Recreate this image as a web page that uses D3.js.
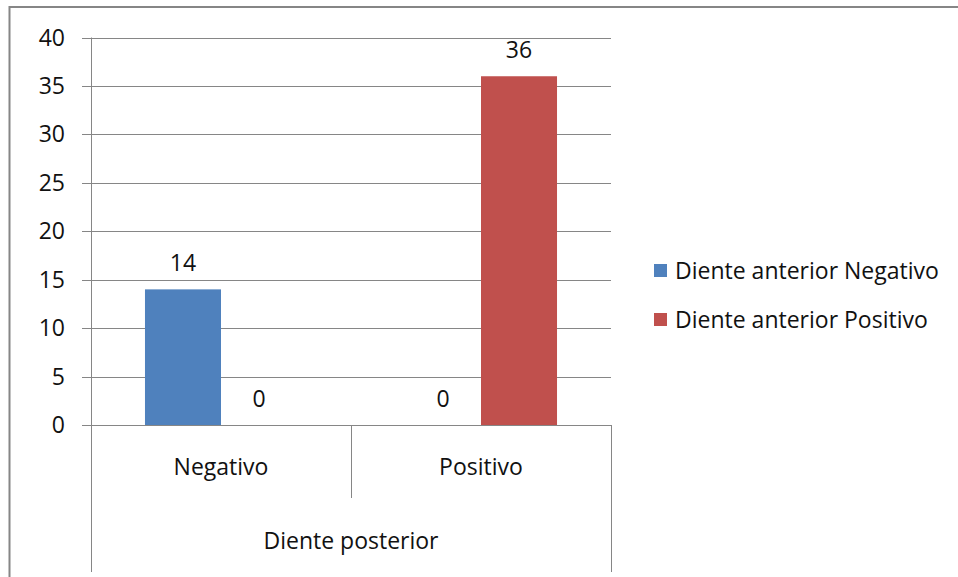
<!DOCTYPE html>
<html>
<head>
<meta charset="utf-8">
<script src="https://cdn.jsdelivr.net/npm/d3@7"></script>
<style>
  html, body { margin: 0; padding: 0; background: #fff; }
  svg { display: block; }
  text { font-family: "Open Sans", "Liberation Sans", sans-serif; fill: #111; }
</style>
</head>
<body>
<svg id="chart" width="958" height="577"></svg>
<script>
// Categories on the x axis (Diente posterior) and the two series (Diente anterior)
const categories = ["Negativo", "Positivo"];
const seriesNames = ["Diente anterior Negativo", "Diente anterior Positivo"];
const seriesNegativo = [14, 0];
const seriesPositivo = [0, 36];
const yTicks = [0, 5, 10, 15, 20, 25, 30, 35, 40];
const axisTitle = "Diente posterior";

const colors = ["#4F81BD", "#C0504D"];
const seriesValues = [seriesNegativo, seriesPositivo];
const fontSize = 23;

const svg = d3.select("#chart");

// outer chart frame
svg.append("rect")
  .attr("x", 9.5).attr("y", 7).attr("width", 960).attr("height", 580)
  .attr("fill", "none").attr("stroke", "#868686").attr("stroke-width", 2);

const plot = { left: 91, right: 611, top: 37.5, bottom: 425 };

const y = d3.scaleLinear().domain([0, 40]).range([plot.bottom, plot.top]);
const x = d3.scaleBand().domain(categories).range([plot.left, plot.right])
  .paddingInner(0).paddingOuter(0);
const xInner = d3.scaleBand().domain(d3.range(seriesNames.length))
  .range([0, x.bandwidth()]).paddingInner(0).paddingOuter(0.71);

// horizontal gridlines with tick marks
svg.append("g").selectAll("line").data(yTicks).join("line")
  .attr("x1", plot.left - 9).attr("x2", plot.right)
  .attr("y1", d => Math.round(y(d)) + 0.5).attr("y2", d => Math.round(y(d)) + 0.5)
  .attr("stroke", "#868686").attr("stroke-width", 1);

// y axis line
svg.append("line")
  .attr("x1", plot.left + 0.5).attr("x2", plot.left + 0.5)
  .attr("y1", plot.top).attr("y2", 572)
  .attr("stroke", "#868686");

// y tick labels
svg.append("g").selectAll("text").data(yTicks).join("text")
  .attr("x", 65).attr("y", d => y(d))
  .attr("dy", "0.35em").attr("text-anchor", "end")
  .attr("font-size", fontSize)
  .text(d => d);

// category dividers below the axis
svg.append("line")
  .attr("x1", x("Positivo") + 0.5).attr("x2", x("Positivo") + 0.5)
  .attr("y1", plot.bottom).attr("y2", 498)
  .attr("stroke", "#868686");
svg.append("line")
  .attr("x1", plot.right + 0.5).attr("x2", plot.right + 0.5)
  .attr("y1", plot.bottom).attr("y2", 572)
  .attr("stroke", "#868686");

// bars
const barData = [];
categories.forEach((c, ci) => {
  seriesValues.forEach((vals, si) => {
    barData.push({ cat: c, s: si, v: vals[ci] });
  });
});

svg.append("g").selectAll("rect").data(barData).join("rect")
  .attr("x", d => x(d.cat) + xInner(d.s))
  .attr("y", d => y(d.v))
  .attr("width", xInner.bandwidth())
  .attr("height", d => y(0) - y(d.v))
  .attr("fill", d => colors[d.s]);

// value labels
svg.append("g").selectAll("text").data(barData).join("text")
  .attr("x", d => x(d.cat) + xInner(d.s) + xInner.bandwidth() / 2)
  .attr("y", d => y(d.v) - 26)
  .attr("dy", "0.35em").attr("text-anchor", "middle")
  .attr("font-size", fontSize)
  .text(d => d.v);

// category labels
svg.append("g").selectAll("text").data(categories).join("text")
  .attr("x", d => x(d) + x.bandwidth() / 2)
  .attr("y", 467).attr("dy", "0.35em").attr("text-anchor", "middle")
  .attr("font-size", fontSize)
  .text(d => d);

// axis title
svg.append("text")
  .attr("x", (plot.left + plot.right) / 2).attr("y", 541)
  .attr("dy", "0.35em").attr("text-anchor", "middle")
  .attr("font-size", fontSize)
  .text(axisTitle);

// legend
const legend = svg.append("g").selectAll("g").data(seriesNames).join("g")
  .attr("transform", (d, i) => `translate(654, ${271 + i * 49})`);
legend.append("rect")
  .attr("x", 0).attr("y", -7).attr("width", 13).attr("height", 13)
  .attr("fill", (d, i) => colors[i]);
legend.append("text")
  .attr("x", 21).attr("y", 0).attr("dy", "0.35em")
  .attr("font-size", fontSize)
  .text(d => d);
</script>
</body>
</html>
